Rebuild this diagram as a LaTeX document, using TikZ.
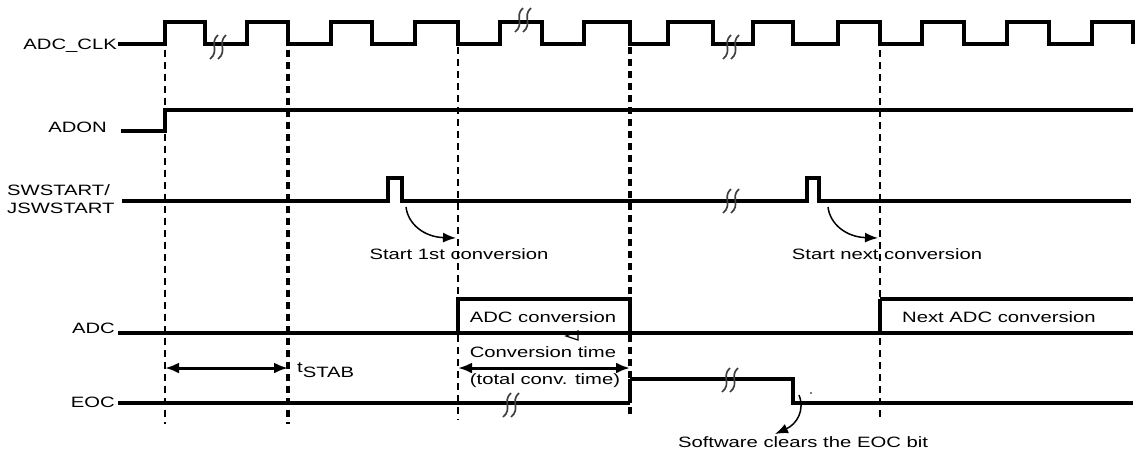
\documentclass[tikz,border=0pt]{standalone}
\usepackage{fontspec}
\setmainfont{Liberation Sans}[FakeStretch=1.35]
\usetikzlibrary{arrows.meta}
\begin{document}
\begin{tikzpicture}[x=1pt,y=-1pt,
  sig/.style={line width=3.1pt, line join=miter},
  boxsig/.style={line width=3.6pt, line join=miter},
  guide/.style={line width=2.6pt, dash pattern=on 7pt off 5pt},
  guidebold/.style={line width=3.8pt, dash pattern=on 7pt off 5pt},
  brk/.style={line width=1.7pt, draw=black!75},
  lbl/.style={inner sep=0pt, font=\fontsize{15}{18}\selectfont},
  dimarrow/.style={line width=3pt, {Latex[length=14pt,width=11pt]}-{Latex[length=14pt,width=11pt]}},
  curvearrow/.style={line width=1.5pt, -{Latex[length=13pt,width=10pt]}},
  brkpic/.pic={
    \draw[brk] (2,-12) .. controls (-7,-4) and (4,4) .. (-6,12);
    \draw[brk] (10,-12) .. controls (1,-4) and (12,4) .. (2,12);
  }
]
\useasboundingbox (0,0) rectangle (1145,459);

% vertical guides
\draw[guide] (165,50) -- (165,424);
\draw[guidebold] (288,50) -- (288,424);
\draw[guide] (458,47) -- (458,420);
\draw[guidebold] (630,47) -- (630,417);
\draw[guide] (880,38) -- (880,417);

% signal labels
\node[lbl, anchor=base east] (lclk) at (117,49) {ADC\_CLK};
\node[lbl, anchor=base east] (ladon) at (107,132) {ADON};
\node[lbl, anchor=base west] (lsw1) at (7,195) {SWSTART/};
\node[lbl, anchor=base west] (lsw2) at (7,213) {JSWSTART};
\node[lbl, anchor=base east] (ladc) at (115,333) {ADC};
\node[lbl, anchor=base east] (leoc) at (115,407) {EOC};

% ADC_CLK
\draw[sig] (118,44) -- (165,44) -- (165,22) -- (205,22) -- (205,44) -- (247,44)
  -- (247,22) -- (288,22) -- (288,44) -- (331,44) -- (331,22) -- (372,22)
  -- (372,44) -- (415,44) -- (415,22) -- (458,22) -- (458,44) -- (500,44)
  -- (500,22) -- (542,22) -- (542,44) -- (584,44) -- (584,22) -- (630,22)
  -- (630,44) -- (668,44) -- (668,22) -- (713,22) -- (713,44) -- (753,44)
  -- (753,22) -- (793,22) -- (793,44) -- (838,44) -- (838,22) -- (880,22)
  -- (880,44) -- (922,44) -- (922,22) -- (964,22) -- (964,44) -- (1007,44)
  -- (1007,22) -- (1049,22) -- (1049,44) -- (1092,44) -- (1092,22) -- (1133,22)
  -- (1133,44);
\pic at (216,47) {brkpic};
\pic at (521,20) {brkpic};
\pic at (729,47) {brkpic};

% ADON
\draw[sig] (121,131) -- (165,131) -- (165,110) -- (1133,110);

% SWSTART / JSWSTART
\draw[sig] (122,201) -- (388,201) -- (388,178) -- (402,178) -- (402,201)
  -- (807,201) -- (807,178) -- (819,178) -- (819,201) -- (1131,201);
\pic at (729,201) {brkpic};

% start arrows and labels
\coordinate (s1a) at (406,207);
\coordinate (s1b) at (456,238);
\draw[curvearrow] (s1a) .. controls (408,224) and (424,237) .. (s1b);
\node[lbl, anchor=base] (start1) at (459,259) {Start 1st conversion};
\coordinate (s2a) at (828,207);
\coordinate (s2b) at (878,238);
\draw[curvearrow] (s2a) .. controls (830,224) and (846,237) .. (s2b);
\node[lbl, anchor=base] (start2) at (887,259) {Start next conversion};

% ADC
\draw[sig] (118,333) -- (1133,333);
\draw[boxsig] (458,333) -- (458,299) -- (630,299) -- (630,333);
\draw[boxsig] (880,333) -- (880,299);
\draw[sig] (880,299) -- (1133,299);
\node[lbl, anchor=base] (conv1) at (543,322) {ADC conversion};
\node[lbl, anchor=base] (conv2) at (999,322) {Next ADC conversion};
\draw[line width=1.2pt] (566,336) -- (578,331) -- (578,340) -- cycle;

% tSTAB
\coordinate (ts1) at (165,368);
\coordinate (ts2) at (288,368);
\draw[dimarrow] (ts1) -- (ts2);
\node[lbl, anchor=base west] (tstab) at (297,372) {t\raisebox{-5pt}{STAB}};

% conversion time
\coordinate (ct1) at (458,368);
\coordinate (ct2) at (630,368);
\draw[dimarrow] (ct1) -- (ct2);
\node[lbl, anchor=base] (ctime) at (543,357) {Conversion time};
\node[lbl, anchor=base] (ttime) at (545,384) {(total conv. time)};

% EOC
\draw[sig] (118,403) -- (630,403);
\draw[boxsig] (630,403) -- (630,379);
\draw[sig] (630,379) -- (793,379) -- (793,403) -- (1133,403);
\pic at (509,405) {brkpic};
\pic at (728,380) {brkpic};

% software clears
\coordinate (sc1) at (799,395);
\coordinate (sc2) at (775,434);
\draw[curvearrow] (sc1) .. controls (805,410) and (797,424) .. (sc2);
\fill (811,393) circle (0.9);
\node[lbl, anchor=base] (swclr) at (803,447) {Software clears the EOC bit};
\end{tikzpicture}
\end{document}
